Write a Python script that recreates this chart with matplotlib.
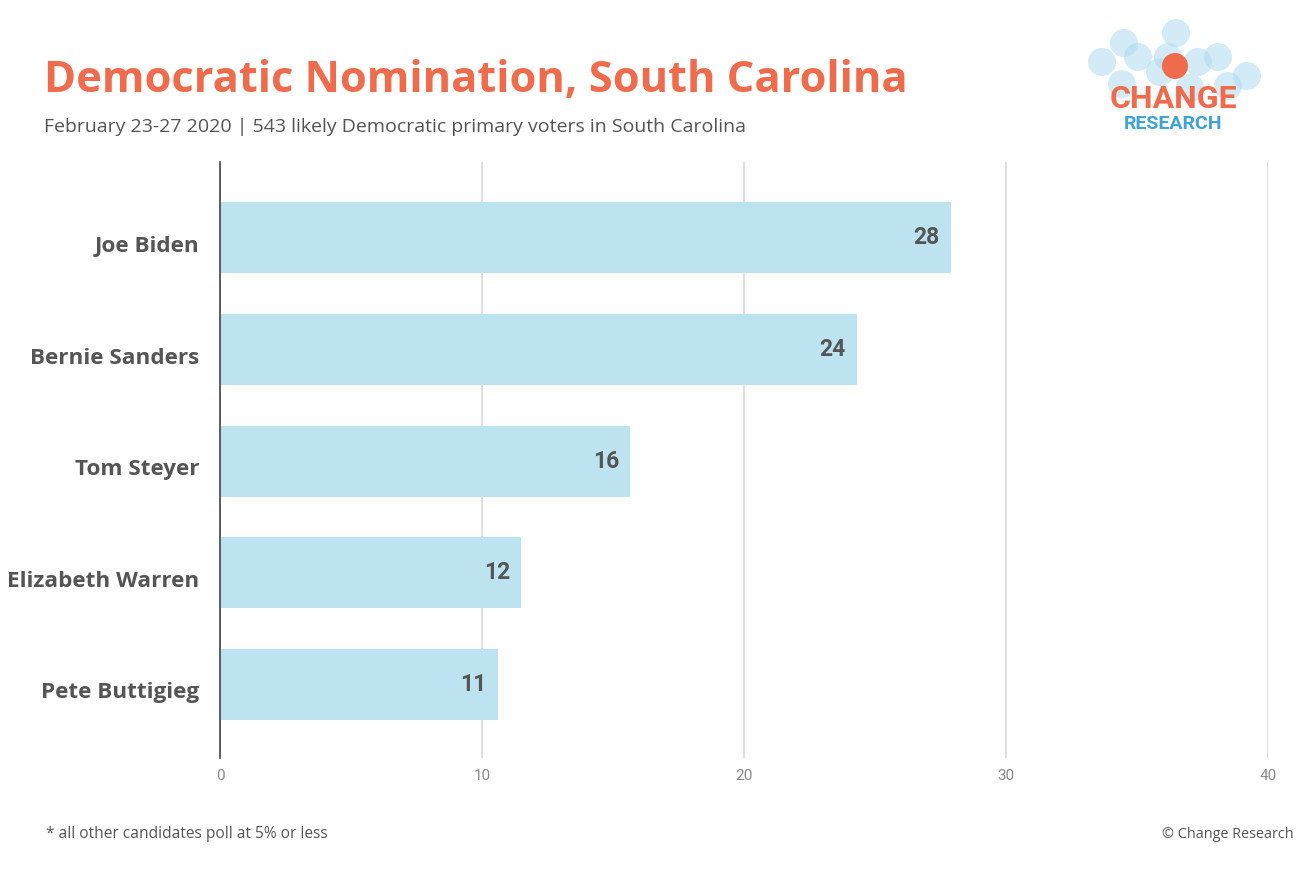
import matplotlib.pyplot as plt
from matplotlib.patches import Circle
from matplotlib.transforms import ScaledTranslation

candidates = ["Joe Biden", "Bernie Sanders", "Tom Steyer", "Elizabeth Warren", "Pete Buttigieg"]
values = [27.9, 24.3, 15.65, 11.5, 10.6]
value_labels = ["28", "24", "16", "12", "11"]
x_ticks = [0, 10, 20, 30, 40]

title = "Democratic Nomination, South Carolina"
subtitle = "February 23-27 2020 | 543 likely Democratic primary voters in South Carolina"
footnote = "* all other candidates poll at 5% or less"
credit = "\u00a9 Change Research"

W, H = 1314, 881
fig = plt.figure(figsize=(W / 100, H / 100), dpi=100)

# main bar chart
ax = fig.add_axes([220 / W, 1 - 758 / H, (1268 - 220) / W, (758 - 162) / H])
ypos = list(range(len(candidates)))
ax.barh(ypos, values, height=0.635, color="#bde3f1", zorder=2)
for y, v, lab in zip(ypos, values, value_labels):
    ax.text(v - 0.42, y, lab, ha="right", va="center", fontsize=16.5,
            fontweight="bold", color="#555555", family="Roboto", zorder=3)

ax.set_xlim(0, 40)
ax.set_ylim(4.66, -0.68)
ax.set_xticks(x_ticks)
ax.set_xticklabels([str(t) for t in x_ticks], family="Roboto", fontsize=11, color="#8a8a8a")
ax.set_yticks(ypos)
ax.set_yticklabels(candidates, family="Open Sans", fontsize=16.2, fontweight="bold", color="#555555")
ax.tick_params(axis="both", length=0)
ax.tick_params(axis="x", pad=8)
ax.tick_params(axis="y", pad=15)
shift = ScaledTranslation(0, -6 / 100, fig.dpi_scale_trans)
for t in ax.get_yticklabels():
    t.set_transform(t.get_transform() + shift)
ax.grid(axis="x", color="#d9d9d9", linewidth=1.2, zorder=0)
for s in ["top", "right", "bottom"]:
    ax.spines[s].set_visible(False)
ax.spines["left"].set_color("#444444")
ax.spines["left"].set_linewidth(1.2)
ax.spines["left"].set_zorder(4)

# titles and notes
fig.text(44 / W, 1 - 81 / H, title, ha="left", va="center", fontsize=31.2,
         fontweight="bold", color="#ef6b4c", family="Open Sans")
fig.text(44 / W, 1 - 127 / H, subtitle, ha="left", va="center", fontsize=14,
         color="#555555", family="Open Sans")
fig.text(46 / W, 1 - 834 / H, footnote, ha="left", va="center", fontsize=11.2,
         color="#555555", family="Open Sans")
fig.text(1294 / W, 1 - 835 / H, credit, ha="right", va="center", fontsize=10.4,
         color="#555555", family="Open Sans")

# logo
lax = fig.add_axes([0, 0, 1, 1])
lax.set_xlim(0, W)
lax.set_ylim(H, 0)
lax.axis("off")
bubbles = [(1102, 62), (1124, 43), (1138, 57), (1176, 33), (1168, 57), (1198, 62),
           (1218, 57), (1247, 76), (1122, 84), (1160, 72), (1228, 86), (1190, 88)]
for cx, cy in bubbles:
    lax.add_patch(Circle((cx, cy), 14, color="#a9d8ef", alpha=0.5, lw=0))
lax.add_patch(Circle((1175, 66), 13, color="#ef6b4c", lw=0))
lax.text(1173, 99, "CHANGE", ha="center", va="center", fontsize=23,
         fontweight="bold", color="#ef6b4c", family="Roboto")
lax.text(1173, 124, "RESEARCH", ha="center", va="center", fontsize=14,
         fontweight="bold", color="#3ea3d6", family="Roboto")

fig.savefig("out.png", dpi=100)
